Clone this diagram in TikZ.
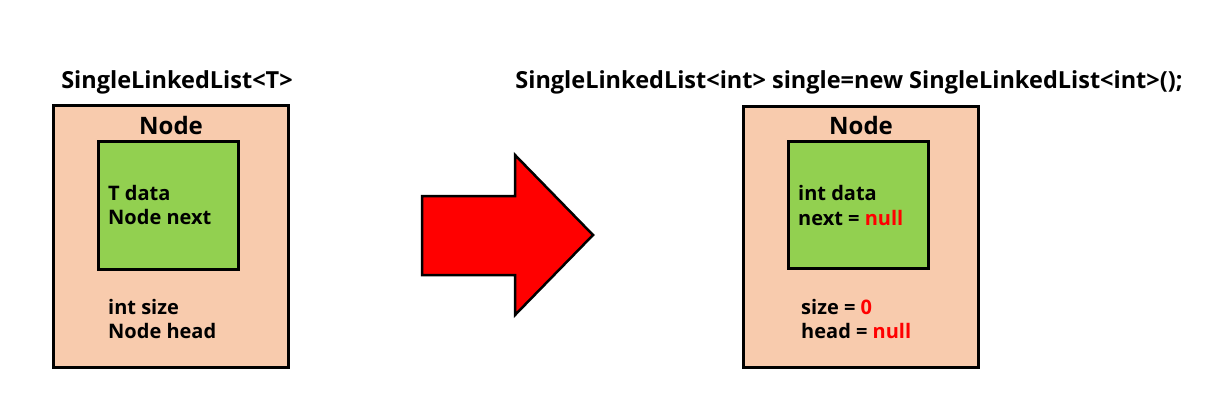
\documentclass[tikz,border=0pt]{standalone}
\usepackage{fontspec}
\setmainfont{Open Sans}
\definecolor{peach}{HTML}{F8CBAD}
\definecolor{leaf}{HTML}{92D050}
\definecolor{nullred}{HTML}{FF0000}
\tikzset{
  title/.style={font=\fontsize{23.5}{28}\selectfont\bfseries},
  boxname/.style={font=\fontsize{24}{28}\selectfont\bfseries},
  field/.style={anchor=west,inner sep=0pt,font=\fontsize{20}{24}\selectfont\bfseries},
  outerbox/.style={draw,line width=3pt,fill=peach},
  innerbox/.style={draw,line width=3pt,fill=leaf},
}
\newcommand{\nul}[1]{\textcolor{nullred}{#1}}
\begin{document}
\begin{tikzpicture}[x=1pt,y=-1pt]
            \useasboundingbox (0,0) rectangle (1212,409);
            \draw[outerbox] (53,106) rectangle (288,367);
            \draw[innerbox] (98,141) rectangle (238,269);
            \draw[outerbox] (743,107) rectangle (978,367);
            \draw[innerbox] (788,141) rectangle (928,268);
            \node[title] (gen) at (177,82) {SingleLinkedList<T>};
            \node[title] (inst) at (849,82) {SingleLinkedList<int> single=new SingleLinkedList<int>();};
            \node[boxname] (genname) at (171,126) {Node};
            \node[boxname] (instname) at (861,126) {Node};
            \node[field] (gdata) at (108,193) {T data};
            \node[field] (gnext) at (108,217) {Node next};
            \node[field] (gsize) at (108,307) {int size};
            \node[field] (ghead) at (108,331) {Node head};
            \node[field] (idata) at (798,193) {int data};
            \node[field] (inext) at (798,218) {next = \nul{null}};
            \node[field] (isize) at (801,307) {size = \nul{0}};
            \node[field] (ihead) at (801,331) {head = \nul{null}};
            \draw[line width=2.5pt,fill=nullred,line join=miter] (422,196) -- (515,196) -- (515,155) -- (593,235)
              -- (515,315) -- (515,275) -- (422,275) -- cycle;
        \end{tikzpicture}
\end{document}
